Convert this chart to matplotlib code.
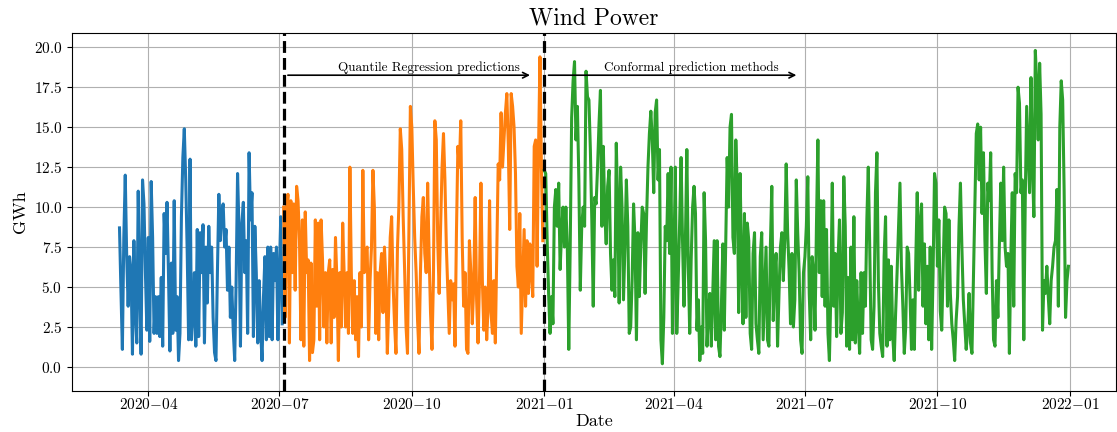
import numpy as np
import pandas as pd
import matplotlib
matplotlib.use("Agg")
import matplotlib.pyplot as plt
import matplotlib.dates as mdates

plt.rcParams['font.family'] = 'serif'
plt.rcParams['font.serif'] = ['cmr10']
plt.rcParams['mathtext.fontset'] = 'cm'
plt.rcParams['axes.formatter.use_mathtext'] = True
plt.rcParams['axes.unicode_minus'] = False

# Daily wind power production (GWh)
train_start = '2020-03-12'
train_gwh = [
    8.7, 4.8, 1.1, 8.1, 12.0, 6.9, 3.8, 6.9, 6.1, 0.8,
    7.9, 3.4, 1.5, 11.0, 5.2, 0.8, 11.7, 10.2, 5.9, 2.3,
    8.1, 1.6, 11.6, 8.1, 2.1, 4.4, 2.1, 4.4, 1.9, 5.6,
    1.3, 9.6, 7.1, 10.3, 5.9, 1.0, 6.5, 2.1, 10.4, 2.3,
    4.4, 0.4, 2.1, 9.4, 13.1, 14.9, 11.7, 7.3, 1.7, 13.0,
    1.7,
    3.1, 5.9, 1.3, 8.6, 1.9, 8.4, 5.9, 8.9, 1.5,
    7.5, 4.0, 8.8, 5.9, 7.5, 3.1, 0.9, 0.4,
    5.9, 10.8, 7.9, 9.7, 10.2, 7.5, 8.6, 4.8, 7.5, 3.1,
    5.0, 2.3, 0.4, 5.4, 12.1, 8.6, 1.3, 9.0, 10.3, 5.9,
    7.9, 2.1, 13.4, 9.2, 10.9, 1.9, 8.8, 5.9, 1.5, 5.4,
    2.3, 0.4, 4.4, 6.9, 1.7, 7.5, 1.9, 7.5, 1.7,
    7.1, 5.4, 7.5, 1.7, 5.9, 9.4, 2.7,
]

calib_start = '2020-07-04'
calib_gwh = [
    10.0, 3.1, 10.0, 10.8, 1.5, 10.4, 5.9, 10.2, 4.8, 11.3,
    10.4, 7.9, 1.7, 9.2, 1.3, 9.7, 5.9, 6.7, 0.4,
    6.5, 0.9, 1.7, 9.2, 3.8, 9.0, 1.7, 9.2, 6.7,
    2.5, 5.9, 1.5, 5.9, 6.7, 1.5, 6.1, 3.1, 8.1,
    5.4, 0.4, 5.9, 2.5, 9.0, 5.9, 2.5, 5.9, 2.1, 12.5,
    5.9, 2.1, 5.4, 1.7, 4.4, 0.65, 5.9, 2.5, 12.3,
    5.9, 7.3, 7.5, 1.7, 5.4, 7.5,
    12.3, 10.0, 2.1, 5.9, 1.7, 5.9, 7.1, 3.4, 7.5,
    5.4, 0.85, 3.8, 8.1, 9.4, 5.2, 2.7, 0.85, 7.3,
    10.0, 14.9, 13.6, 9.4, 6.1, 2.5, 0.85, 8.8, 16.3,
    15.0, 11.3, 8.1, 5.9, 2.9, 0.85, 5.9, 9.4, 10.6,
    7.1, 5.9, 11.5, 7.1, 3.4, 1.1, 5.4, 15.4, 14.2,
    7.9, 4.6, 8.8, 12.5, 14.6, 11.7, 7.5, 4.8, 2.1, 5.4,
    4.2, 5.2, 1.3, 8.4, 13.8,
    12.5, 15.4, 7.9, 3.8, 5.9, 1.1, 0.85, 7.9, 5.9,
    2.7, 5.0, 10.6, 4.2, 1.5, 5.4, 11.5, 5.4, 2.3,
    5.0, 1.7, 3.8, 10.4, 3.4, 2.1, 5.4, 1.5, 7.1,
    12.7, 11.7, 15.9, 12.5, 14.2, 15.9, 17.1, 13.9, 8.6, 17.1,
    16.3, 15.0, 12.1, 6.3, 5.0, 9.6, 2.1, 5.4, 8.6, 3.8,
    7.9, 4.6, 7.7, 5.9, 4.4, 13.8, 14.2, 6.3, 13.6, 19.4,
    12.5, 7.9,
]

test_start = '2021-01-01'
test_gwh = [
    12.3, 12.1, 7.9, 4.6, 2.1, 4.4, 2.7, 10.0, 11.1,
    8.8, 11.5, 6.1, 8.4, 10.0, 7.5, 10.0, 7.5, 1.1,
    7.5, 15.6, 17.9, 19.1, 14.2, 16.3, 11.7, 4.8, 8.8,
    10.0, 8.8, 18.5, 16.9, 16.7, 13.6, 9.2, 3.8, 10.6,
    10.2, 12.5, 15.2, 17.3, 8.8, 13.8, 9.6, 7.7, 11.3,
    12.3, 7.1, 4.8, 6.7, 4.4, 14.0, 10.0, 4.0, 12.5,
    10.0, 4.2, 7.5, 11.7, 8.8, 2.1,
    2.5, 5.4, 10.2, 7.9, 1.7, 8.4, 4.4, 7.5,
    10.0, 9.6, 4.6, 9.2, 12.5, 14.6, 16.0, 14.2, 10.9,
    15.9, 16.7, 11.7, 13.6, 1.7, 0.2, 3.1, 8.8, 7.9,
    12.1, 7.1, 12.5, 2.1, 6.7, 12.5, 2.1, 5.4, 9.0,
    13.1, 7.9, 3.8, 7.9, 13.6, 6.3, 2.1, 6.7, 10.0,
    11.3, 9.6, 2.3, 4.2, 0.4, 2.5, 0.85, 10.9, 7.9,
    1.3, 3.4, 4.6, 1.3, 4.6, 7.9,
    1.7, 7.9, 1.3, 0.65, 3.8, 7.7, 2.3, 7.9, 13.1,
    10.0, 15.0, 15.8, 8.1, 7.1, 14.2, 11.3, 3.4, 12.1,
    6.3, 2.7, 9.6, 3.1, 9.0, 7.9, 2.1, 1.1, 7.1,
    8.4, 2.7, 1.7, 0.85, 6.9, 8.4, 1.7, 4.6, 7.5,
    1.7, 1.3, 7.5, 11.3, 2.9, 5.9, 7.1, 1.3, 4.6,
    7.5, 8.4, 5.4, 7.9, 12.7, 8.4, 6.1, 2.7, 7.1,
    2.5, 4.2, 11.7, 8.4, 5.9,
    1.7, 0.85, 5.9, 6.9, 8.8, 11.9, 4.6, 1.7, 6.9,
    5.9, 2.3, 8.8, 14.2, 5.9, 10.4, 4.4, 10.4, 3.8,
    8.6, 2.1, 0.4, 4.6, 11.5, 3.8, 7.1, 1.9, 6.7,
    9.2, 2.1, 3.4, 11.9, 8.8, 1.3, 5.6, 1.1, 7.5,
    1.7, 9.4, 1.5, 5.4, 2.7, 0.85, 5.9, 2.1, 5.9,
    3.8, 9.2, 12.5, 7.5, 1.7, 1.1, 3.8, 10.9, 13.4,
    5.4, 2.1, 1.3, 0.65, 6.9,
    9.4, 1.3, 6.7, 1.7, 6.3, 1.9, 0.4, 3.4, 5.9,
    8.8, 11.5, 6.3, 3.8, 0.85, 2.5, 7.5, 7.1, 4.4,
    1.1, 4.2, 1.1, 6.7, 10.9, 4.8, 9.0, 10.2, 3.8,
    7.7, 2.7, 6.3, 1.7, 7.5, 1.1, 5.9, 12.1, 11.5,
    6.3, 9.2, 3.5, 2.3, 6.3, 10.0, 9.6, 3.8, 9.2,
    4.6, 2.7, 1.7, 0.4, 2.9, 4.4, 8.8, 11.5, 7.5, 4.2,
    2.7, 1.1, 2.3, 4.6,
    1.5, 0.85, 5.4, 10.0, 14.6, 15.2, 11.7, 15.0, 9.6,
    13.4, 7.9, 4.6, 11.5, 10.4, 13.4, 5.9, 1.7, 1.3,
    5.4, 3.1, 7.5, 11.5, 7.9, 12.5, 7.5, 6.3, 7.1,
    0.85, 6.9, 10.9, 3.8, 12.1, 10.9, 17.5, 16.5, 10.9,
    11.7, 1.7, 10.4, 16.3, 13.6, 10.9, 18.1, 12.5, 9.4, 19.8,
    17.7, 14.2, 19.0, 15.8, 2.3, 5.4, 4.6, 6.3, 4.4,
    2.7, 5.4, 6.3, 7.5, 7.9, 11.1, 3.8, 15.0,
    17.9, 16.7, 11.1, 3.1, 5.4, 6.3,
]

train = pd.Series(train_gwh, index=pd.date_range(train_start, periods=len(train_gwh), freq='D'))
calib = pd.Series(calib_gwh, index=pd.date_range(calib_start, periods=len(calib_gwh), freq='D'))
test = pd.Series(test_gwh, index=pd.date_range(test_start, periods=len(test_gwh), freq='D'))

fig = plt.figure(figsize=(11.17, 4.32), dpi=100)
ax = fig.add_axes([0.0645, 0.095, 0.9345, 0.829])

ax.plot(train.index, train.values, lw=2.2)
ax.plot(calib.index, calib.values, lw=2.2)
ax.plot(test.index, test.values, lw=2.2)

# split markers between the periods
ax.axvline(calib.index[0], color='black', ls='--', lw=2.3)
ax.axvline(test.index[0], color='black', ls='--', lw=2.3)

ax.annotate('', xy=(pd.Timestamp('2020-12-24'), 18.25), xytext=(pd.Timestamp('2020-07-05'), 18.25),
            arrowprops=dict(arrowstyle='->', color='black', lw=1.2))
ax.text(pd.Timestamp('2020-10-13'), 18.3, 'Quantile Regression predictions', ha='center', va='bottom', fontsize=9.5)
ax.annotate('', xy=(pd.Timestamp('2021-06-27'), 18.25), xytext=(pd.Timestamp('2021-01-02'), 18.25),
            arrowprops=dict(arrowstyle='->', color='black', lw=1.2))
ax.text(pd.Timestamp('2021-04-13'), 18.3, 'Conformal prediction methods', ha='center', va='bottom', fontsize=9.5)

ax.set_ylim(-1.5, 20.9)
ax.set_yticks(np.arange(0, 20.1, 2.5))
ax.xaxis.set_major_locator(mdates.MonthLocator(bymonth=[1, 4, 7, 10]))
ax.xaxis.set_major_formatter(mdates.DateFormatter(r'$\mathdefault{%Y{-}%m}$'))
ax.tick_params(labelsize=11)
ax.tick_params(axis='x', pad=1)
ax.grid(True)
ax.set_title('Wind Power', fontsize=17)
ax.set_xlabel('Date', fontsize=13, labelpad=1)
ax.set_ylabel('GWh', fontsize=13)

fig.savefig('out.png', dpi=100)
